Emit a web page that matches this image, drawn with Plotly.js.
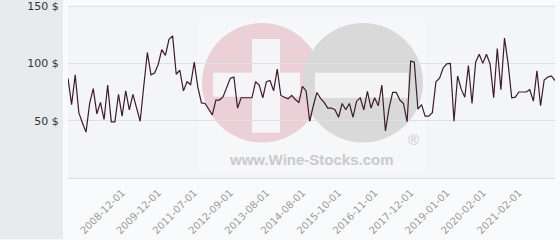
<!DOCTYPE html>
<html>
<head>
<meta charset="utf-8">
<script src="https://cdn.plot.ly/plotly-3.0.1.min.js"></script>
<style>html,body{margin:0;padding:0;background:#f9fafb;}#chart{width:560px;height:240px;}</style>
</head>
<body>
<div id="chart"></div>
<script>
const prices = [87,64,90,57,48,40,65,78,56,66,51,81,49,49,73,54,76,59.5,73,61,
  49.5,80,109.5,90,91.5,99,112,107,121,124,90.5,94,76,84,81.5,101,79,65.5,65,60,
  55,68,68,71,80,87,88,61,70,70,70,70,84,81,70,84,85,76,95,72,
  70.5,69,72,68.5,66,80,76,49.5,63,74.6,69.5,66,61,61,59.5,53,65,59.5,65,53,
  67,70,59.5,75.5,61,70,63,81,41,61,74.6,74.6,68,65,49,102,101,60,64,54,
  54,57,84,87,96,99.5,100,49.5,89,77.5,70.5,98,65,101,108,100,108,99.5,70,113,
  77,122,100,70,70.5,75,75,75,77,67,93.5,63,85.5,88,89,85];
const tickPositions = [15,25,35,45,55,65,75,85,95,105,115,125];
const tickLabels = ["2008-12-01","2009-12-01","2011-07-01","2012-09-01","2013-08-01","2014-08-01",
  "2015-10-01","2016-11-01","2017-12-01","2019-01-01","2020-02-01","2021-02-01"];
const yTicks = [50,100,150];
const yTickLabels = ["50 $","100 $","150 $"];

const idx = prices.map((_, i) => i);

// plot area in pixels
const L = 68, R = 555, T = 5, B = 178.5;
const fx = p => (p - L) / (R - L);
const fy = p => (B - p) / (B - T);
function rect(x0,y0,x1,y1,fill){return {type:'rect',xref:'paper',yref:'paper',x0:fx(x0),x1:fx(x1),y0:fy(y1),y1:fy(y0),fillcolor:fill,line:{width:0},layer:'below'};}
function circ(cx,cy,r,fill){return {type:'circle',xref:'paper',yref:'paper',x0:fx(cx-r),x1:fx(cx+r),y0:fy(cy+r),y1:fy(cy-r),fillcolor:fill,line:{width:0},layer:'below'};}

const shapes = [
  rect(0,0,63,240,'#e8ebee'),
  rect(197,18,427,173,'rgba(255,255,255,0.2)'),
  circ(262,83,60,'#ebd0d7'),
  rect(252,39,280,133,'#f5f5f7'),
  rect(213,73,300,97,'#f5f5f7'),
  circ(363,83,60,'#d9d9da'),
  rect(315,73,408,98,'#f4f4f5')
];

const data = [{
  x: idx, y: prices, type: 'scatter', mode: 'lines',
  line: {color: '#3b1c2a', width: 1.2}, hoverinfo: 'skip'
}];

const layout = {
  width: 560, height: 240,
  margin: {l: L, r: 560 - R, t: T, b: 240 - B},
  paper_bgcolor: '#f9fafb',
  plot_bgcolor: '#f4f5f8',
  showlegend: false,
  font: {family: 'DejaVu Sans', size: 11, color: '#333'},
  xaxis: {
    range: [0, prices.length - 1],
    tickmode: 'array', tickvals: tickPositions, ticktext: tickLabels,
    tickangle: -45, tickfont: {family: 'DejaVu Sans', size: 10, color: '#9a9a9a'},
    showgrid: false, zeroline: false,
    showline: true, linecolor: '#dcdcdc', linewidth: 1,
    ticks: 'outside', ticklen: 4, tickcolor: 'rgba(0,0,0,0)'
  },
  yaxis: {
    range: [0, 150.9],
    tickmode: 'array', tickvals: yTicks, ticktext: yTickLabels,
    tickfont: {family: 'DejaVu Sans', size: 11, color: '#333'},
    ticklabeloverflow: 'allow',
    gridcolor: '#e0e0e2', zeroline: false,
    ticks: 'outside', ticklen: 6, tickcolor: 'rgba(0,0,0,0)'
  },
  shapes: shapes,
  annotations: [
    {xref:'paper',yref:'paper',x:fx(311),y:fy(160),text:'<b>www.Wine-Stocks.com</b>',showarrow:false,
     font:{family:'Liberation Sans',size:15,color:'#cacaca'},xanchor:'center',yanchor:'middle'},
    {xref:'paper',yref:'paper',x:fx(413),y:fy(140),text:'®',showarrow:false,
     font:{family:'Liberation Sans',size:15,color:'#cbcbcb'},xanchor:'center',yanchor:'middle'}
  ]
};

Plotly.newPlot('chart', data, layout, {staticPlot: true, displayModeBar: false});
</script>
</body>
</html>
